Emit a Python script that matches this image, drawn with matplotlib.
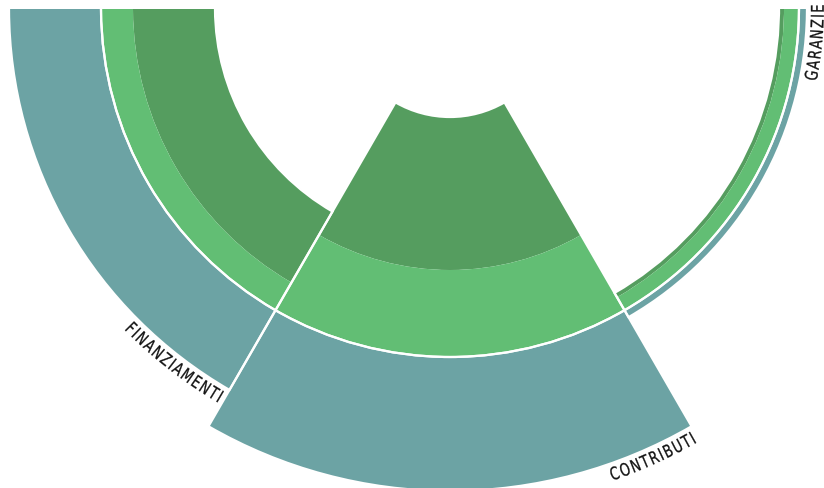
import matplotlib
matplotlib.use('Agg')
import matplotlib.pyplot as plt
import numpy as np
from matplotlib.patches import Rectangle, PathPatch
from matplotlib.path import Path
from matplotlib.textpath import TextPath, text_to_path
from matplotlib.font_manager import FontProperties

# sectors, angles in degrees counterclockwise from the bottom
categories = ['CONTRIBUTI', 'GARANZIE', 'FINANZIAMENTI']
start_deg = [-30, 30, 91]
end_deg = [30, 91, 330]

# green layers grow inward from the base ring, teal layer grows outward
dark_green = [153, 5, 82]
light_green = [87, 15, 32]
teal = [134, 8, 92]
BASE = 349

COL_DARK = '#559d5f'
COL_LIGHT = '#62be74'
COL_TEAL = '#6ca3a4'
COL_TEXT = '#141414'

W, H = 824, 488
CX, CY = 450, 8      # centre in pixels from the top-left corner
RMAX = 520           # radial units == pixels

FS = 17.5            # label size (px)
COND = 0.75          # horizontal squeeze of the glyphs
TRACK = 1.4          # extra letter spacing (px)
PAD = 3.0            # gap between label end and sector edge (px)
GAP = 4.0            # gap between ring and label tops (px)

fp = FontProperties(family='DejaVu Sans', size=FS)


def arc_label(ax, text, end, r_top):
    cap = TextPath((0, 0), 'E', size=FS, prop=fp).get_extents().height
    rb = r_top + cap
    total = text_to_path.get_text_width_height_descent(text, fp, ismath=False)[0]
    length = COND * total + TRACK * (len(text) - 1)
    verts, codes = [], []
    for i, ch in enumerate(text):
        pre = 0.0
        if i:
            pre = text_to_path.get_text_width_height_descent(text[:i], fp, ismath=False)[0]
        tp = TextPath((0, 0), ch, size=FS, prop=fp)
        v = tp.vertices
        x = COND * (v[:, 0] + pre) + TRACK * i
        th = np.radians(end) - PAD / rb - (length - x) / rb
        r = rb - v[:, 1]
        verts.append(np.column_stack([th, r]))
        codes.append(tp.codes)
    path = Path(np.vstack(verts), np.concatenate(codes))
    ax.add_patch(PathPatch(path, transform=ax.transData, facecolor=COL_TEXT,
                           edgecolor=COL_TEXT, lw=0.2, clip_on=False))


def main():
    fig = plt.figure(figsize=(W / 100, H / 100), dpi=100)
    ax = fig.add_axes([(CX - RMAX) / W, (H - CY - RMAX) / H, 2 * RMAX / W, 2 * RMAX / H],
                      projection='polar')
    ax.set_theta_zero_location('S')
    ax.set_ylim(0, RMAX)
    ax.axis('off')

    # everything above this line is cut away
    clip = Rectangle((0, 0), 1, (H - 9) / H, transform=fig.transFigure)

    patches = []
    for i, name in enumerate(categories):
        th0 = np.radians(start_deg[i])
        w = np.radians(end_deg[i] - start_deg[i])
        inner = BASE - light_green[i] - dark_green[i]
        patches += ax.bar(th0, dark_green[i], width=w, bottom=inner, align='edge',
                          color=COL_DARK, lw=0)
        patches += ax.bar(th0, light_green[i], width=w, bottom=BASE - light_green[i],
                          align='edge', color=COL_LIGHT, lw=0)
        patches += ax.bar(th0, teal[i], width=w, bottom=BASE, align='edge',
                          color=COL_TEAL, lw=0)

    # white separators between sectors and between green and teal
    for i, name in enumerate(categories):
        th0 = np.radians(start_deg[i])
        w = np.radians(end_deg[i] - start_deg[i])
        inner = BASE - light_green[i] - dark_green[i]
        patches += ax.bar(th0, BASE - inner, width=w, bottom=inner, align='edge',
                          fill=False, edgecolor='white', lw=1.6)
        patches += ax.bar(th0, teal[i], width=w, bottom=BASE, align='edge',
                          fill=False, edgecolor='white', lw=1.6)

    for p in patches:
        p.set_clip_path(clip)

    for i, name in enumerate(categories):
        arc_label(ax, name, end_deg[i], BASE + teal[i] + GAP)

    fig.savefig('out.png', dpi=100)


if __name__ == '__main__':
    main()
